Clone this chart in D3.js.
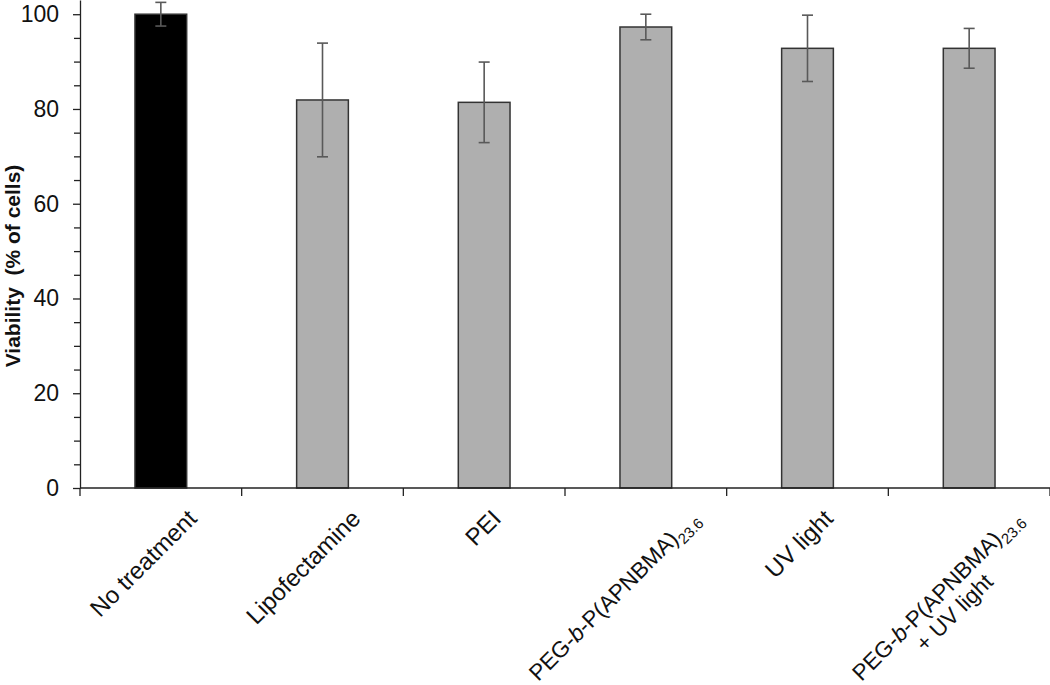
<!DOCTYPE html>
<html>
<head>
<meta charset="utf-8">
<script src="https://cdn.jsdelivr.net/npm/d3@7"></script>
<style>
  body { margin: 0; background: #fff; }
  svg { display: block; font-family: Arial, "Liberation Sans", sans-serif; }
</style>
</head>
<body>
<svg id="chart" width="1050" height="685"></svg>
<script>
// values
var categories = ["No treatment", "Lipofectamine", "PEI", "PEG-b-P(APNBMA)23.6", "UV light", "PEG-b-P(APNBMA)23.6 + UV light"];
var viability = [100, 81.9, 81.4, 97.3, 92.8, 92.8];
var errors = [2.5, 12.0, 8.5, 2.7, 7.0, 4.2];
var barColors = ["#000000", "#afafaf", "#afafaf", "#afafaf", "#afafaf", "#afafaf"];
var yMajorTicks = [0, 20, 40, 60, 80, 100];
var yMinorTicks = [5, 10, 15, 25, 30, 35, 45, 50, 55, 65, 70, 75, 85, 90, 95];
var yTitle = "Viability  (% of cells)";

// label markup: lines, each a list of [text, style] pieces
var polymer = [["PEG-", ""], ["b", "i"], ["-P(APNBMA)", ""], ["23.6", "sub"]];
var labelLines = [
    [[["No treatment", ""]]],
    [[["Lipofectamine", ""]]],
    [[["PEI", ""]]],
    [polymer],
    [[["UV light", ""]]],
    [polymer, [["+ UV light", ""]]]
];

var svg = d3.select("#chart");
var plotLeft = 80, plotRight = 1050, plotBottom = 488, plotTop = 0;

var x = d3.scaleBand()
    .domain(categories)
    .range([plotLeft, plotRight])
    .padding(0);

var y = d3.scaleLinear()
    .domain([0, 103])
    .range([plotBottom, plotTop]);

// bars
var barW = x.bandwidth() * 0.32;
svg.selectAll("rect.bar")
    .data(categories)
    .enter().append("rect")
    .attr("class", "bar")
    .attr("x", function(d) { return x(d) + x.bandwidth() / 2 - barW / 2; })
    .attr("y", function(d, i) { return y(viability[i]); })
    .attr("width", barW)
    .attr("height", function(d, i) { return y(0) - y(viability[i]); })
    .style("fill", function(d, i) { return barColors[i]; })
    .style("stroke", "#333")
    .style("stroke-width", 1.5);

// error bars
var capW = 11;
var err = svg.selectAll("g.err")
    .data(categories)
    .enter().append("g")
    .attr("class", "err")
    .style("stroke", "#595959")
    .style("stroke-width", 1.6);

err.each(function(d, i) {
    var g = d3.select(this);
    var cx = x(d) + x.bandwidth() / 2;
    var hi = y(viability[i] + errors[i]), lo = y(viability[i] - errors[i]);
    g.append("line").attr("x1", cx).attr("x2", cx).attr("y1", hi).attr("y2", lo);
    g.append("line").attr("x1", cx - capW / 2).attr("x2", cx + capW / 2).attr("y1", hi).attr("y2", hi);
    g.append("line").attr("x1", cx - capW / 2).attr("x2", cx + capW / 2).attr("y1", lo).attr("y2", lo);
});

// y axis
var yAxis = svg.append("g")
    .attr("transform", "translate(" + plotLeft + ",0)")
    .call(d3.axisLeft(y).tickValues(yMajorTicks).tickSize(7).tickPadding(14).tickSizeOuter(0));
yAxis.selectAll("text")
    .style("font-size", "23px")
    .style("font-family", "Arial, 'Liberation Sans', sans-serif")
    .attr("fill", "#111");
yAxis.append("g")
    .call(d3.axisLeft(y).tickValues(yMinorTicks).tickSize(6).tickFormat("").tickSizeOuter(0))
    .select(".domain").remove();
yAxis.selectAll("line, path").style("stroke", "#222").style("stroke-width", 1.3);

// x axis: ticks on the category boundaries
var bounds = categories.map(function(d) { return x(d); }).concat([plotRight]);
var xAxisG = svg.append("g").attr("class", "xaxis");
xAxisG.append("line")
    .attr("x1", plotLeft).attr("x2", plotRight)
    .attr("y1", y(0)).attr("y2", y(0));
xAxisG.selectAll("line.tick")
    .data(bounds)
    .enter().append("line")
    .attr("class", "tick")
    .attr("x1", function(d) { return d; }).attr("x2", function(d) { return d; })
    .attr("y1", y(0)).attr("y2", y(0) + 8);
xAxisG.selectAll("line").style("stroke", "#222").style("stroke-width", 1.3);

// rotated category labels
labelLines.forEach(function(lines, i) {
    var hasSub = lines[0].length > 1;
    var fs = hasSub ? 22.5 : 24;
    var lineH = 24;
    var g = svg.append("g");
    var t = g.append("text")
        .attr("text-anchor", "middle")
        .style("font-size", fs + "px")
        .attr("fill", "#111");
    lines.forEach(function(pieces, li) {
        var shift = 0;
        pieces.forEach(function(p, pi) {
            var ts = t.append("tspan").text(p[0]);
            var dy = 0;
            if (pi === 0) {
                ts.attr("x", 0).attr("y", li * lineH);
            }
            if (p[1] === "sub") {
                ts.style("font-size", "15px");
                dy = 6;
            }
            if (p[1] === "i") ts.style("font-style", "italic");
            if (pi > 0 && dy - shift !== 0) ts.attr("dy", dy - shift);
            shift = dy;
        });
    });
    var w = t.node().getBBox().width;
    var cx = x(categories[i]) + x.bandwidth() / 2;
    var ex = 11 + 0.19 * w, ey = 32;
    var k = w / 2 * Math.SQRT1_2;
    g.attr("transform", "translate(" + (cx + ex - k) + "," + (y(0) + ey + k) + ") rotate(-45)");
});

// y title
svg.append("text")
    .attr("transform", "translate(20," + 266 + ") rotate(-90)")
    .attr("text-anchor", "middle")
    .style("font-size", "21px")
    .style("font-weight", "bold")
    .attr("fill", "#111")
    .style("white-space", "pre")
    .text(yTitle);
</script>
</body>
</html>
